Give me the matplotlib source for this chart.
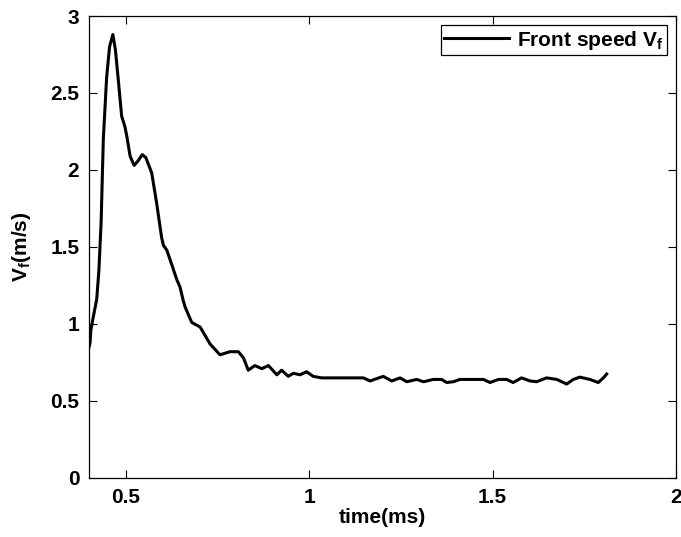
import matplotlib
matplotlib.use("Agg")
import matplotlib.pyplot as plt

plt.rcParams['font.family'] = ['Liberation Sans', 'DejaVu Sans']
plt.rcParams['font.weight'] = 'bold'
plt.rcParams['mathtext.fontset'] = 'custom'
plt.rcParams['mathtext.bf'] = 'Liberation Sans:bold'
plt.rcParams['mathtext.rm'] = 'Liberation Sans:bold'
plt.rcParams['mathtext.it'] = 'Liberation Sans:bold'
plt.rcParams['mathtext.default'] = 'bf'

# tiempo (ms) y velocidad del frente (m/s)
time_ms = [0.400, 0.403, 0.405, 0.412, 0.421, 0.427, 0.433, 0.439, 0.448, 0.456,
           0.465, 0.472, 0.480, 0.489, 0.498, 0.503, 0.512, 0.523, 0.534, 0.545,
           0.555, 0.571, 0.584, 0.598, 0.603, 0.612, 0.625, 0.639, 0.648, 0.657,
           0.662, 0.680, 0.703, 0.730, 0.757, 0.784, 0.807, 0.821, 0.834, 0.852,
           0.871, 0.889, 0.912, 0.925, 0.943, 0.957, 0.975, 0.993, 1.011, 1.034,
           1.148, 1.166, 1.202, 1.225, 1.248, 1.266, 1.293, 1.312, 1.338, 1.361,
           1.375, 1.393, 1.411, 1.438, 1.457, 1.475, 1.493, 1.516, 1.538, 1.556,
           1.579, 1.602, 1.620, 1.647, 1.675, 1.702, 1.720, 1.738, 1.765, 1.788,
           1.802, 1.811]
speed = [0.85, 0.88, 0.96, 1.05, 1.16, 1.35, 1.66, 2.20, 2.60, 2.80,
         2.88, 2.78, 2.58, 2.35, 2.28, 2.22, 2.09, 2.03, 2.06, 2.10,
         2.08, 1.98, 1.79, 1.56, 1.51, 1.48, 1.39, 1.29, 1.24, 1.15,
         1.11, 1.01, 0.98, 0.87, 0.80, 0.82, 0.82, 0.78, 0.70, 0.73,
         0.71, 0.73, 0.67, 0.70, 0.66, 0.68, 0.67, 0.69, 0.66, 0.65,
         0.65, 0.63, 0.66, 0.63, 0.65, 0.625, 0.64, 0.625, 0.64, 0.64,
         0.62, 0.625, 0.64, 0.64, 0.64, 0.64, 0.62, 0.64, 0.64, 0.62,
         0.65, 0.63, 0.625, 0.65, 0.64, 0.61, 0.64, 0.655, 0.64, 0.62,
         0.65, 0.675]

xticks = [0.5, 1, 1.5, 2]
xtick_labels = ['0.5', '1', '1.5', '2']
yticks = [0, 0.5, 1, 1.5, 2, 2.5, 3]
ytick_labels = ['0', '0.5', '1', '1.5', '2', '2.5', '3']

fig = plt.figure(figsize=(6.81, 5.37), dpi=100)
ax = fig.add_axes([0.1307, 0.1099, 0.8620, 0.8603])

ax.plot(time_ms, speed, color='black', linewidth=2.2, label='Front speed V$_f$')

ax.set_xlim(0.4, 2)
ax.set_ylim(0, 3)
ax.set_xticks(xticks)
ax.set_xticklabels(xtick_labels)
ax.set_yticks(yticks)
ax.set_yticklabels(ytick_labels)
ax.tick_params(direction='in', length=6, width=0.8, top=True, right=True,
               labelsize=15, pad=7)
for s in ax.spines.values():
    s.set_linewidth(0.9)

ax.set_xlabel('time(ms)', fontsize=15, fontweight='bold', labelpad=1)
ax.set_ylabel('V$_f$(m/s)', fontsize=15, fontweight='bold', labelpad=12)

leg = ax.legend(loc='upper right', fontsize=15, frameon=True, fancybox=False,
                edgecolor='black', framealpha=1, borderaxespad=0.45,
                handlelength=3.1, handletextpad=0.4, borderpad=0.15)
leg.get_frame().set_linewidth(0.9)

fig.savefig('out.png', dpi=100)
